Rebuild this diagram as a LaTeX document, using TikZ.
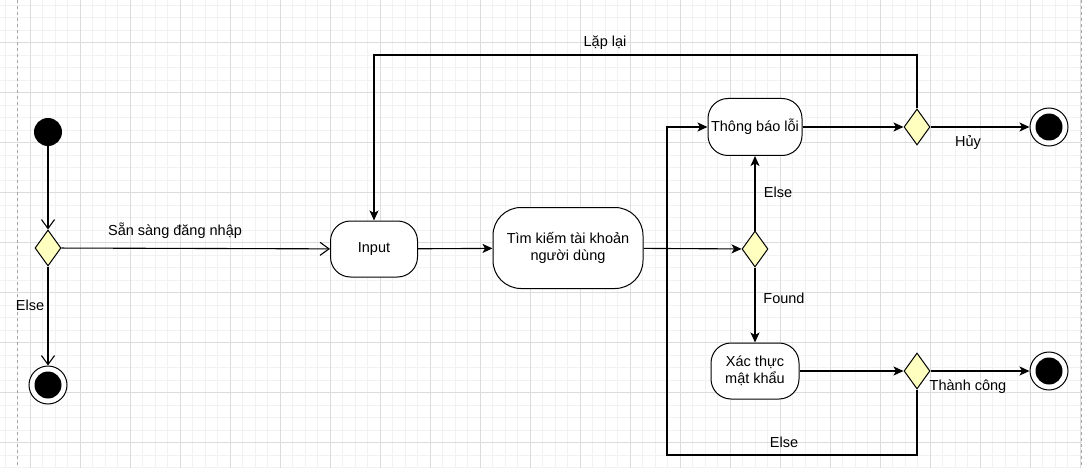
\documentclass[tikz,border=0pt]{standalone}
\usepackage{fontspec}
\setmainfont{Liberation Sans}
\usetikzlibrary{shapes.geometric,arrows.meta}
\definecolor{gridminor}{HTML}{F2F2F2}
\definecolor{gridmajor}{HTML}{DCDCDC}
\definecolor{decfill}{HTML}{FFFFC0}
\begin{document}
\begin{tikzpicture}[x=1pt,y=-1pt,
    font=\fontsize{14.5}{17}\selectfont,
    minorgrid/.style={gridminor,line width=0.8pt},
    majorgrid/.style={gridmajor,line width=0.8pt},
    initial/.style={circle,fill=black,minimum size=28pt,inner sep=0pt},
    final/.style={circle,draw=black,line width=1pt,fill=white,minimum size=38pt,inner sep=0pt,
        path picture={\fill[black] (path picture bounding box.center) circle (13.5pt);}},
    decision/.style={diamond,draw=black,line width=1pt,fill=decfill,minimum width=26pt,minimum height=36pt,inner sep=0pt},
    action/.style={draw=black,line width=1pt,fill=white,align=center,inner sep=0pt},
    lbl/.style={inner sep=1pt},
    flow/.style={line width=1.1pt,-{Stealth[length=10pt,width=9pt,inset=2.5pt]}},
    openflow/.style={line width=1.1pt,-{Straight Barb[length=9pt,width=13pt]}},
    link/.style={line width=1.1pt}]
\useasboundingbox (0,0) rectangle (1082,468);
\fill[white] (0,0) rectangle (1082,468);
% grid
\foreach \x in {5,17.5,...,1082} \draw[minorgrid] (\x,0) -- (\x,468);
\foreach \y in {5,17.5,...,468} \draw[minorgrid] (0,\y) -- (1082,\y);
\foreach \x in {30,80,...,1082} \draw[majorgrid] (\x,0) -- (\x,468);
\foreach \y in {42.5,92.5,...,468} \draw[majorgrid] (0,\y) -- (1082,\y);
\draw[gray!70,dashed,line width=0.8pt] (17.5,0) -- (17.5,468);
\draw[gray!70,dashed,line width=0.8pt] (1081,0) -- (1081,468);

% nodes
\node[initial] (start) at (48,132) {};
\node[decision] (ready) at (48,248) {};
\node[final] (quit) at (48,385) {};
\node[action,minimum width=87pt,minimum height=56pt,rounded corners=20pt] (input) at (374,249) {Input};
\node[action,minimum width=150pt,minimum height=81pt,rounded corners=28pt] (search) at (568,248) {Tìm kiếm tài khoản\\người dùng};
\node[decision] (found) at (755,249) {};
\node[action,minimum width=94pt,minimum height=57pt,rounded corners=20pt] (error) at (755,127) {Thông báo lỗi};
\node[decision] (retry) at (917,127) {};
\node[final] (cancel) at (1049,127) {};
\node[action,minimum width=88pt,minimum height=56pt,rounded corners=20pt] (verify) at (755,371) {Xác thực\\mật khẩu};
\node[decision] (check) at (917,371) {};
\node[final] (success) at (1049,371) {};
\coordinate (looptop) at (917,55);
\coordinate (backleft) at (667,455);

% labels
\node[lbl] (lready) at (175,231) {Sẵn sàng đăng nhập};
\node[lbl] (lquit) at (30,305) {Else};
\node[lbl] (lloop) at (605,43) {Lặp lại};
\node[lbl] (lerror) at (778,192) {Else};
\node[lbl] (lfound) at (784,298) {Found};
\node[lbl] (lcancel) at (968,143) {Hủy};
\node[lbl] (lsuccess) at (968,387) {Thành công};
\node[lbl] (lback) at (784,442) {Else};

% edges
\draw[openflow] (start) -- (ready);
\draw[openflow] (ready) -- (quit);
\draw[openflow] (ready) -- (input);
\draw[flow] (input) -- (search);
\draw[flow] (search) -- (found);
\draw[flow] (found) -- (error);
\draw[flow] (found) -- (verify);
\draw[flow] (error) -- (retry);
\draw[flow] (retry) -- (cancel);
\draw[flow] (retry.north) -- (looptop) -| (input.north);
\draw[flow] (verify) -- (check);
\draw[flow] (check) -- (success);
\draw[flow] (check.south) |- (backleft) |- (error.west);
\end{tikzpicture}
\end{document}
